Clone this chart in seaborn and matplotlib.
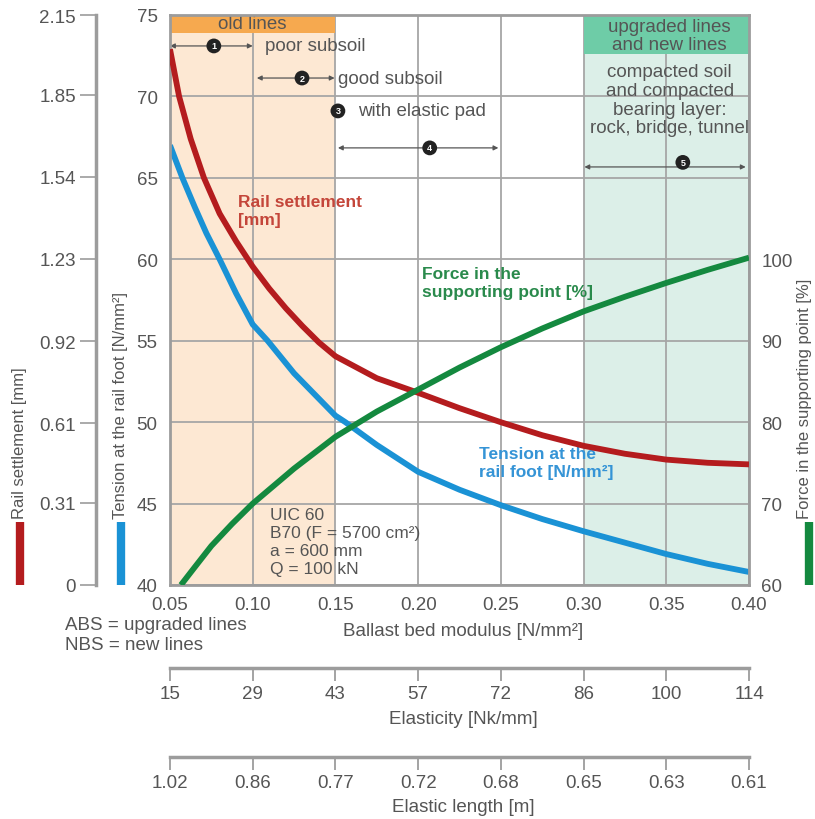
import matplotlib
matplotlib.use('Agg')
import matplotlib.pyplot as plt
import seaborn as sns
from matplotlib.lines import Line2D
from matplotlib.patches import Rectangle

# ---------------- data ----------------
modulus_ticks = [0.05, 0.10, 0.15, 0.20, 0.25, 0.30, 0.35, 0.40]
modulus_labels = ['0.05', '0.10', '0.15', '0.20', '0.25', '0.30', '0.35', '0.40']
elasticity_labels = ['15', '29', '43', '57', '72', '86', '100', '114']
elastic_length_labels = ['1.02', '0.86', '0.77', '0.72', '0.68', '0.65', '0.63', '0.61']
tension_ticks = [40, 45, 50, 55, 60, 65, 70, 75]
settlement_ticks = [0, 0.31, 0.61, 0.92, 1.23, 1.54, 1.85, 2.15]
settlement_labels = ['0', '0.31', '0.61', '0.92', '1.23', '1.54', '1.85', '2.15']
force_ticks = [60, 70, 80, 90, 100]

# Rail settlement [mm]
settle_x = [0.05, 0.0555, 0.0625, 0.0705, 0.08, 0.09, 0.10, 0.11, 0.12, 0.13, 0.14,
            0.15, 0.175, 0.20, 0.225, 0.25, 0.275, 0.30, 0.325, 0.35, 0.375, 0.40]
settle_y = [2.021, 1.843, 1.683, 1.536, 1.401, 1.296, 1.201, 1.118, 1.044, 0.977, 0.915,
            0.863, 0.780, 0.725, 0.667, 0.614, 0.565, 0.525, 0.495, 0.473, 0.461, 0.455]

# Tension at the rail foot [N/mm2]
tension_x = [0.05, 0.0575, 0.065, 0.072, 0.08, 0.09, 0.10, 0.109, 0.125, 0.15, 0.156,
             0.175, 0.20, 0.225, 0.25, 0.275, 0.30, 0.325, 0.35, 0.375, 0.40]
tension_y = [67.0, 65.0, 63.2, 61.6, 60.0, 57.9, 56.0, 55.0, 53.0, 50.4, 50.0,
             48.6, 46.95, 45.85, 44.9, 44.05, 43.3, 42.6, 41.9, 41.3, 40.8]

# Force in the supporting point [%]
force_x = [0.0566, 0.065, 0.075, 0.0875, 0.10, 0.125, 0.15, 0.175, 0.20, 0.225,
           0.25, 0.275, 0.30, 0.325, 0.35, 0.375, 0.40]
force_y = [60.0, 62.2, 64.8, 67.5, 70.0, 74.3, 78.2, 81.3, 84.0, 86.7,
           89.2, 91.5, 93.6, 95.4, 97.1, 98.7, 100.2]

# ---------------- style ----------------
sns.set_theme(style='white')
plt.rcParams['font.family'] = ['Liberation Sans', 'DejaVu Sans']

RED = '#b41c1e'
BLUE = '#1a92d5'
GREEN = '#14893f'
GRAY = '#9c9c9c'
TXT = '#555555'
FS = 13.5

W_PX, H_PX = 815, 820
fig = plt.figure(figsize=(8.15, 8.2), dpi=100)
fig.patch.set_facecolor('white')

L = 170 / W_PX
R = 749 / W_PX
T = 1 - 16 / H_PX
B = 1 - 586 / H_PX
ax = fig.add_axes([L, B, R - L, T - B])
ax.set_facecolor('white')

# background bands
ax.axvspan(0.05, 0.15, color='#fde8d3', lw=0, zorder=0.1)
ax.axvspan(0.30, 0.40, color='#dcefe8', lw=0, zorder=0.1)

# curves
line_kw = dict(linewidth=4.2, zorder=5, sort=False, solid_joinstyle='round',
               solid_capstyle='butt')
sns.lineplot(x=tension_x, y=tension_y, ax=ax, color=BLUE, **line_kw)
ax_set = ax.twinx()
sns.lineplot(x=settle_x, y=settle_y, ax=ax_set, color=RED, **line_kw)
ax_f = ax.twinx()
sns.lineplot(x=force_x, y=force_y, ax=ax_f, color=GREEN, **line_kw)

for a in (ax, ax_set, ax_f):
    a.set_xlim(0.05, 0.40)
    a.set_xlabel('')
    a.set_ylabel('')

ax.set_ylim(40, 75)
ax_set.set_ylim(0, 2.15)
ax_f.set_ylim(60, 130)

# main axis ticks
ax.set_xticks(modulus_ticks)
ax.set_xticklabels(modulus_labels)
ax.set_yticks(tension_ticks)
ax.tick_params(axis='both', length=0, labelsize=FS, labelcolor=TXT)
ax.tick_params(axis='x', pad=8)
ax.tick_params(axis='y', pad=9)
ax.grid(True, color='#a6a6a6', linewidth=1.3)
ax.set_axisbelow(True)
for s in ax.spines.values():
    s.set_color(GRAY)
    s.set_linewidth(2)
    s.set_zorder(6)

# settlement axis (outer left)
for k, s in ax_set.spines.items():
    s.set_visible(k == 'left')
ax_set.spines['left'].set_position(('axes', (96 - 170) / (749 - 170)))
ax_set.spines['left'].set_color(GRAY)
ax_set.spines['left'].set_linewidth(2.5)
ax_set.yaxis.set_ticks_position('left')
ax_set.set_yticks(settlement_ticks)
ax_set.set_yticklabels(settlement_labels)
ax_set.tick_params(axis='y', direction='out', length=11.5, width=1.2, color=GRAY,
                   pad=3, labelsize=FS, labelcolor=TXT)
ax_set.grid(False)

# force axis (right)
for s in ax_f.spines.values():
    s.set_visible(False)
ax_f.set_yticks(force_ticks)
ax_f.tick_params(axis='y', length=0, pad=9, labelsize=FS, labelcolor=TXT)
ax_f.grid(False)

# header bands
ax.add_patch(Rectangle((0.05, 73.9), 0.10, 1.1, facecolor='#f6a94f', lw=0, zorder=2))
ax.add_patch(Rectangle((0.30, 72.6), 0.10, 2.4, facecolor='#6ecca7', lw=0, zorder=2))
ax.text(0.10, 74.45, 'old lines', ha='center', va='center', fontsize=FS, color=TXT, zorder=3)
ax.text(0.352, 73.72, 'upgraded lines\nand new lines', ha='center', va='center',
        fontsize=FS, color=TXT, linespacing=1.1, zorder=3)
ax.text(0.352, 69.8, 'compacted soil\nand compacted\nbearing layer:\nrock, bridge, tunnel',
        ha='center', va='center', fontsize=FS, color=TXT, linespacing=1.14, zorder=3)


def circ(x, y, num):
    ax.text(x, y, num, ha='center', va='center', fontsize=6.5, color='white',
            fontweight='bold', zorder=4,
            bbox=dict(boxstyle='circle,pad=0.32', fc='#222222', ec='none'))


def span_arrow(x0, x1, y, num, xc, yc=None):
    ax.annotate('', xy=(x1, y), xytext=(x0, y),
                arrowprops=dict(arrowstyle='<|-|>', color='#555555', lw=0.9,
                                mutation_scale=7, shrinkA=0, shrinkB=0), zorder=3)
    circ(xc, y if yc is None else yc, num)


span_arrow(0.05, 0.10, 73.1, '1', 0.0765)
ax.text(0.1074, 73.1, 'poor subsoil', ha='left', va='center', fontsize=FS, color=TXT)
span_arrow(0.1025, 0.1495, 71.13, '2', 0.1298)
ax.text(0.1515, 71.13, 'good subsoil', ha='left', va='center', fontsize=FS, color=TXT)
circ(0.1515, 69.11, '3')
ax.text(0.1635, 69.11, 'with elastic pad', ha='left', va='center', fontsize=FS, color=TXT)
span_arrow(0.1515, 0.2485, 66.84, '4', 0.207)
span_arrow(0.3005, 0.398, 65.67, '5', 0.360, 65.95)

# series labels
ax.text(0.0913, 63.0, 'Rail settlement\n[mm]', ha='left', va='center', fontsize=12.5,
        fontweight='bold', color='#c4463a', linespacing=1.3)
ax.text(0.2025, 58.55, 'Force in the\nsupporting point [%]', ha='left', va='center',
        fontsize=12.5, fontweight='bold', color='#2a8a4c', linespacing=1.25)
ax.text(0.2365, 47.5, 'Tension at the\nrail foot [N/mm²]', ha='left', va='center',
        fontsize=12.5, fontweight='bold', color='#3594d6', linespacing=1.25)
ax.text(0.1105, 42.65, 'UIC 60\nB70 (F = 5700 cm²)\na = 600 mm\nQ = 100 kN', ha='left',
        va='center', fontsize=12.5, color=TXT, linespacing=1.25)


# figure-level texts
def fx(px):
    return px / W_PX


def fy(py):
    return 1 - py / H_PX


fig.text(fx(463), fy(632), 'Ballast bed modulus [N/mm²]', ha='center', va='center',
         fontsize=FS, color=TXT)
fig.text(fx(65), fy(626), 'ABS = upgraded lines', ha='left', va='center', fontsize=FS, color=TXT)
fig.text(fx(65), fy(646), 'NBS = new lines', ha='left', va='center', fontsize=FS, color=TXT)

# secondary scales below
for y_line, labels, title, y_title in [(669, elasticity_labels, 'Elasticity [Nk/mm]', 720),
                                       (758, elastic_length_labels, 'Elastic length [m]', 808)]:
    axb = fig.add_axes([L, fy(y_line), R - L, 0.0001])
    axb.patch.set_visible(False)
    axb.set_xlim(0.05, 0.40)
    axb.set_xticks(modulus_ticks)
    axb.set_xticklabels(labels)
    axb.set_yticks([])
    for k, s in axb.spines.items():
        s.set_visible(k == 'bottom')
    axb.spines['bottom'].set_color(GRAY)
    axb.spines['bottom'].set_linewidth(2.5)
    axb.tick_params(axis='x', direction='out', length=9.5, width=1.3, color=GRAY,
                    pad=3, labelsize=FS, labelcolor=TXT, bottom=True)
    fig.text(fx(463), fy(y_title), title, ha='center', va='center', fontsize=FS, color=TXT)

# rotated axis titles and colour keys
fig.text(fx(20), fy(519), 'Rail settlement [mm]', rotation=90, ha='center', va='bottom',
         fontsize=12, color=TXT)
fig.text(fx(121), fy(519), 'Tension at the rail foot [N/mm²]', rotation=90, ha='center',
         va='bottom', fontsize=12, color=TXT)
fig.text(fx(804), fy(519), 'Force in the supporting point [%]', rotation=90, ha='center',
         va='bottom', fontsize=12, color=TXT)
for xp, col in [(20, RED), (121, BLUE), (809, GREEN)]:
    fig.add_artist(Line2D([fx(xp), fx(xp)], [fy(523), fy(586)], lw=6, color=col,
                          solid_capstyle='butt'))

fig.savefig('out.png', dpi=100, facecolor='white')
